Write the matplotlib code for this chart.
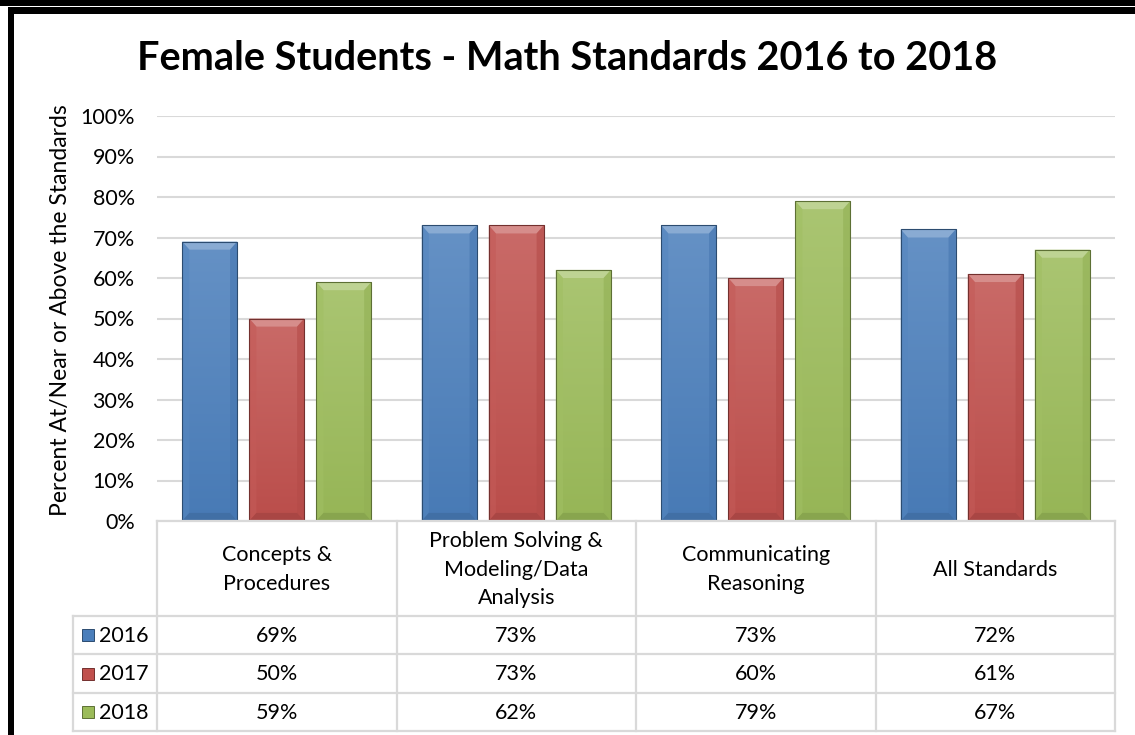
import matplotlib
matplotlib.use("Agg")

import numpy as np
import matplotlib.pyplot as plt
from matplotlib.patches import Polygon, Rectangle
from matplotlib.colors import to_rgb

plt.rcParams['font.family'] = ['Lato', 'DejaVu Sans']

# data
categories = ["Concepts &\nProcedures",
              "Problem Solving &\nModeling/Data\nAnalysis",
              "Communicating\nReasoning",
              "All Standards"]
years = ["2016", "2017", "2018"]
v2016 = [69, 73, 73, 72]
v2017 = [50, 73, 60, 61]
v2018 = [59, 62, 79, 67]
series = [v2016, v2017, v2018]
colors = ["#4A7EBB", "#C0504D", "#9BBB59"]

W, H = 1135, 735
fig = plt.figure(figsize=(W / 100, H / 100), dpi=100)

# pixel layout
px_l, px_r = 157, 1115
px_top, px_bot = 116, 521
ax = fig.add_axes([px_l / W, 1 - px_bot / H, (px_r - px_l) / W, (px_bot - px_top) / H])

n = len(categories)
x = np.arange(n) + 0.5
bw = 0.23
step = 0.28
fs = 15.5


def lighten(c, f):
    r = np.array(to_rgb(c))
    return tuple(r + (1 - r) * f)


def darken(c, f):
    r = np.array(to_rgb(c))
    return tuple(r * (1 - f))


for i, vals in enumerate(series):
    pos = x + (i - 1) * step
    bars = ax.bar(pos, np.array(vals) / 100, width=bw, color=colors[i],
                  edgecolor="none", zorder=3)
    for b in bars:
        x0, y0 = b.get_x(), b.get_y()
        w, h = b.get_width(), b.get_height()
        # vertical gradient
        grad = np.linspace(0, 1, 100).reshape(-1, 1)
        c1 = np.array(lighten(colors[i], 0.15))
        c2 = np.array(darken(colors[i], 0.03))
        img = c2 + (c1 - c2) * grad[..., None]
        im = ax.imshow(img, extent=[x0, x0 + w, y0, y0 + h], origin="lower",
                       aspect="auto", zorder=3.1, interpolation="bilinear")
        im.set_clip_path(b)
        # bevel edges
        bx = 0.03
        by = 0.02
        top = y0 + h
        ax.add_patch(Polygon([[x0, top], [x0 + w, top], [x0 + w - bx, top - by], [x0 + bx, top - by]],
                             closed=True, facecolor=lighten(colors[i], 0.35), edgecolor="none", zorder=3.2))
        ax.add_patch(Polygon([[x0, y0], [x0 + bx, y0 + by], [x0 + bx, top - by], [x0, top]],
                             closed=True, facecolor=lighten(colors[i], 0.06), edgecolor="none",
                             alpha=0.6, zorder=3.2))
        ax.add_patch(Polygon([[x0 + w, y0], [x0 + w - bx, y0 + by], [x0 + w - bx, top - by], [x0 + w, top]],
                             closed=True, facecolor=darken(colors[i], 0.06), edgecolor="none",
                             alpha=0.6, zorder=3.2))
        ax.add_patch(Polygon([[x0, y0], [x0 + w, y0], [x0 + w - bx, y0 + by], [x0 + bx, y0 + by]],
                             closed=True, facecolor=darken(colors[i], 0.12), edgecolor="none", zorder=3.2))
        ax.add_patch(Rectangle((x0, y0), w, h, facecolor="none",
                               edgecolor=darken(colors[i], 0.4), linewidth=0.8, zorder=3.3))

ax.set_xlim(0, n)
ax.set_ylim(0, 1)
ax.set_yticks(np.arange(0, 1.01, 0.1))
ax.set_yticklabels([f"{int(round(t * 100))}%" for t in np.arange(0, 1.01, 0.1)], fontsize=fs)
ax.set_xticks([])
ax.tick_params(axis="y", length=0, pad=16)
ax.grid(axis="y", color="#D9D9D9", linewidth=1.5, zorder=0)
for s in ax.spines.values():
    s.set_visible(False)
ax.set_ylabel("Percent At/Near or Above the Standards", fontsize=16.5)
ax.yaxis.set_label_coords(-0.09, 0.52)

# overlay in pixel coords for frame and table
ov = fig.add_axes([0, 0, 1, 1], zorder=-1)
ov.set_xlim(0, W)
ov.set_ylim(H, 0)
ov.axis("off")

# black frame
ov.add_patch(Rectangle((0, 0), W, 5.5, facecolor="black", edgecolor="none"))
ov.add_patch(Rectangle((8, 7), W, 6.5, facecolor="black", edgecolor="none"))
ov.add_patch(Rectangle((8, 7), 6, H, facecolor="black", edgecolor="none"))

fig.text(567 / W, 1 - 58 / H, "Female Students - Math Standards 2016 to 2018",
         fontsize=28.5, fontweight="bold", ha="center", va="center")

# table
gcol = "#D9D9D9"
lw = 1.6
col_edges = np.linspace(px_l, px_r, n + 1)
row_edges = [521, 616, 654, 693, 731]
lab_l = 73
ov2 = fig.add_axes([0, 0, 1, 1], zorder=5)
ov2.set_xlim(0, W)
ov2.set_ylim(H, 0)
ov2.axis("off")
ov2.plot([px_l, px_r], [row_edges[0]] * 2, color=gcol, lw=lw)
for y in row_edges[1:]:
    ov2.plot([lab_l, px_r], [y, y], color=gcol, lw=lw)
for xe in col_edges:
    ov2.plot([xe, xe], [row_edges[0], row_edges[-1]], color=gcol, lw=lw)
ov2.plot([lab_l, lab_l], [row_edges[1], row_edges[-1]], color=gcol, lw=lw)

for j, cat in enumerate(categories):
    cx = 0.5 * (col_edges[j] + col_edges[j + 1])
    ov2.text(cx, 0.5 * (row_edges[0] + row_edges[1]) + 1, cat, ha="center", va="center",
             fontsize=fs, linespacing=1.55)
for i, vals in enumerate(series):
    cy = 0.5 * (row_edges[i + 1] + row_edges[i + 2])
    ov2.add_patch(Rectangle((82, cy - 6), 12, 12, facecolor=colors[i],
                            edgecolor=darken(colors[i], 0.4), lw=0.7))
    ov2.text(99, cy + 1, years[i], ha="left", va="center", fontsize=fs)
    for j, v in enumerate(vals):
        cx = 0.5 * (col_edges[j] + col_edges[j + 1])
        ov2.text(cx, cy + 1, f"{v}%", ha="center", va="center", fontsize=fs)

plt.savefig("out.png", dpi=100)
